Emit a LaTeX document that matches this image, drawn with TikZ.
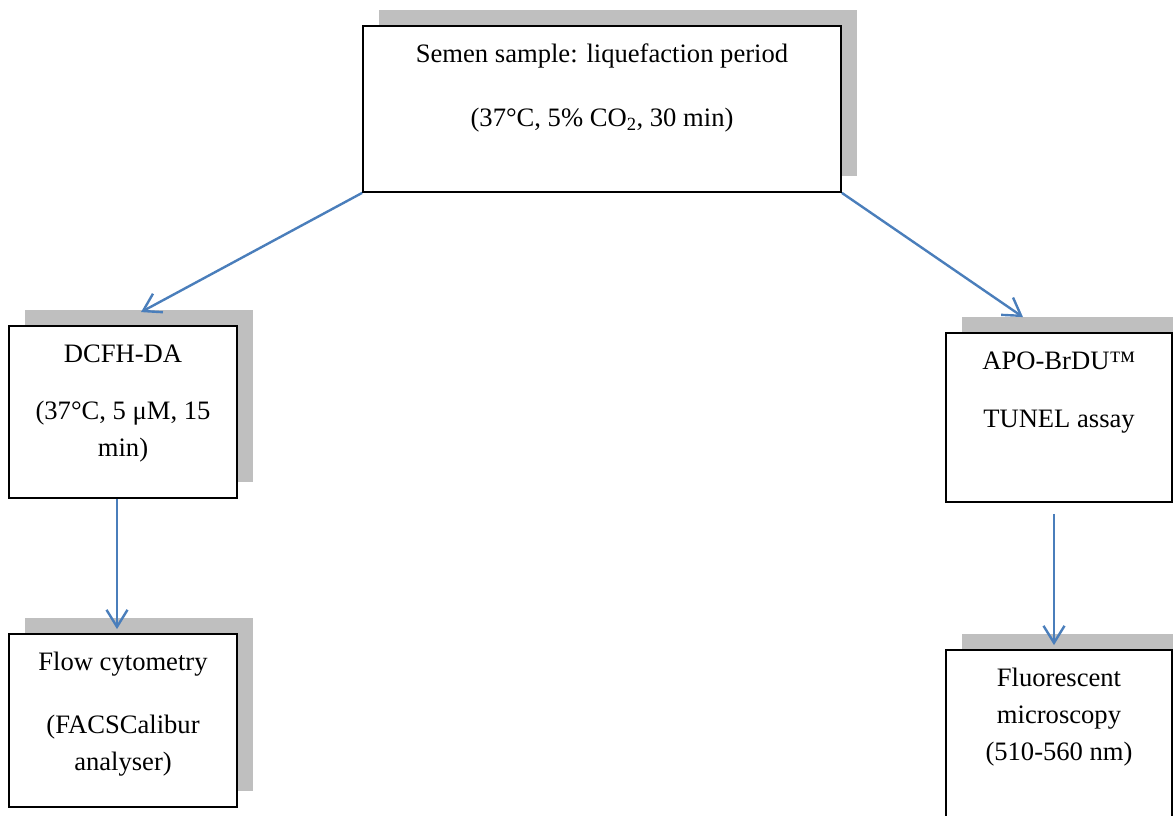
\documentclass[tikz,border=0pt]{standalone}
\usepackage{fontspec}
\setmainfont{Liberation Serif}
\usetikzlibrary{arrows.meta,shadows,calc}
\definecolor{shadowgray}{HTML}{BFBFBF}
\definecolor{arrowblue}{HTML}{4A7EBB}
\begin{document}
\begin{tikzpicture}[x=1pt,y=-1pt,
  box/.style={draw=black, line width=1.8pt, fill=white, inner sep=0pt,
    general shadow={fill=shadowgray, draw=none, shadow xshift=16pt, shadow yshift=16pt}},
  boxtext/.style={anchor=north, align=center, inner sep=0pt,
    font=\fontsize{26.6pt}{37pt}\selectfont},
  conn/.style={draw=arrowblue, line width=2.4pt, -{Straight Barb[length=17pt,width=21pt]}}]
\useasboundingbox (0,0) rectangle (1173,816);
\clip (0,0) rectangle (1173,816);

% boxes
\node[box, minimum width=478pt, minimum height=166pt] (sample) at (602,109) {};
\node[boxtext] (sampletext) at ($(sample.north)+(0,17)$)
  {\rule{0pt}{20pt}Semen sample: liquefaction period\\[27pt](37°C, 5\% CO\textsubscript{2}, 30 min)};

\node[box, minimum width=228pt, minimum height=172pt] (dcfh) at (123,412) {};
\node[boxtext] (dcfhtext) at ($(dcfh.north)+(0,17)$)
  {\rule{0pt}{20pt}DCFH-DA\\[20pt](37°C, 5 μM, 15\\min)};

\node[box, minimum width=228pt, minimum height=173pt] (flow) at (123,720.5) {};
\node[boxtext] (flowtext) at ($(flow.north)+(0,17)$)
  {\rule{0pt}{20pt}Flow cytometry\\[26pt](FACSCalibur\\analyser)};

\node[box, minimum width=226pt, minimum height=169pt] (apo) at (1059,417.5) {};
\node[boxtext] (apotext) at ($(apo.north)+(0,17)$)
  {\rule{0pt}{20pt}APO-BrDU™\\[21pt]TUNEL assay};

\node[box, minimum width=226pt, minimum height=170pt] (fluor) at (1059,735) {};
\node[boxtext] (fluortext) at ($(fluor.north)+(0,17)$)
  {\rule{0pt}{20pt}Fluorescent\\microscopy\\(510-560 nm)};

% connectors
\draw[conn] (sample.south west) -- ($(dcfh.north)+(18,-13)$);
\draw[conn] (sample.south east) -- ($(apo.north)+(-36,-15)$);
\draw[conn] ($(dcfh.south)+(-6,0)$) -- ($(flow.north)+(-6,-4)$);
\draw[conn] ($(apo.south)+(-5,11)$) -- ($(fluor.north)+(-5,-4)$);
\end{tikzpicture}
\end{document}
